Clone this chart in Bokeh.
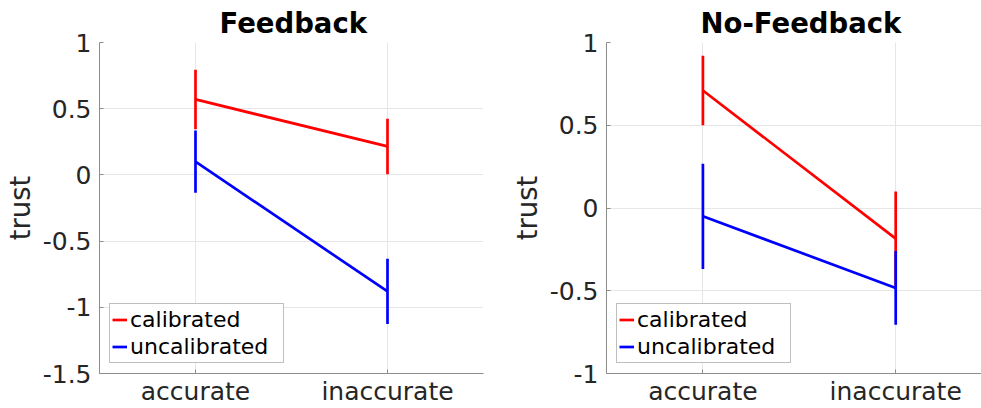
from bokeh.plotting import figure
from bokeh.layouts import row
from bokeh.models import FixedTicker, Legend, LegendItem, Range1d
from bokeh.embed import file_html
from bokeh.resources import INLINE

# Conditions on the x axis
categories = ["accurate", "inaccurate"]
cat_pos = [1, 2]

# Feedback panel: mean trust and error half-widths
fb_calibrated = [0.57, 0.215]
fb_calibrated_err = [0.225, 0.21]
fb_uncalibrated = [0.10, -0.88]
fb_uncalibrated_err = [0.235, 0.247]

# No-Feedback panel
nfb_calibrated = [0.71, -0.185]
nfb_calibrated_err = [0.21, 0.285]
nfb_uncalibrated = [-0.05, -0.483]
nfb_uncalibrated_err = [0.318, 0.223]

fb_yticks = [-1.5, -1, -0.5, 0, 0.5, 1]
fb_ytick_labels = ["-1.5", "-1", "-0.5", "0", "0.5", "1"]
nfb_yticks = [-1, -0.5, 0, 0.5, 1]
nfb_ytick_labels = ["-1", "-0.5", "0", "0.5", "1"]

series_names = ["calibrated", "uncalibrated"]
series_colors = ["#ff0000", "#0000ff"]

FONT = "DejaVu Sans"
AXIS_GRAY = "#8c8c8c"
TEXT_DARK = "#262626"
LW = 2.7


def make_panel(title, means, errs, yticks, ylabels, yrange, xrange, width,
               border_left, border_right, title_offset):
    p = figure(width=width, height=408, output_backend="svg", toolbar_location=None,
               x_range=Range1d(*xrange), y_range=Range1d(*yrange),
               min_border_left=border_left, min_border_right=border_right,
               min_border_top=42, min_border_bottom=34)
    p.outline_line_color = None
    p.background_fill_color = "white"
    p.border_fill_color = "white"

    p.title.text = title
    p.title.align = "left"
    p.title.offset = title_offset
    p.title.text_font = FONT
    p.title.text_font_size = "27.5px"
    p.title.text_font_style = "bold"
    p.title.text_color = "black"
    p.title.standoff = 8

    p.xaxis.ticker = FixedTicker(ticks=cat_pos)
    p.xaxis.major_label_overrides = {k: v for k, v in zip(cat_pos, categories)}
    p.yaxis.ticker = FixedTicker(ticks=yticks)
    p.yaxis.major_label_overrides = {k: v for k, v in zip(yticks, ylabels)}
    p.yaxis.axis_label = "trust"

    for ax in (p.xaxis, p.yaxis):
        ax.axis_line_color = AXIS_GRAY
        ax.axis_line_width = 1
        ax.major_tick_line_color = AXIS_GRAY
        ax.major_tick_in = 4
        ax.major_tick_out = 0
        ax.minor_tick_line_color = None
        ax.major_label_text_font = FONT
        ax.major_label_text_font_size = "25px"
        ax.major_label_text_color = TEXT_DARK
        ax.axis_label_text_font = FONT
        ax.axis_label_text_font_size = "27.5px"
        ax.axis_label_text_font_style = "normal"
        ax.axis_label_text_color = TEXT_DARK
        ax.axis_label_standoff = 4
    p.yaxis.major_label_standoff = 8
    p.xaxis.major_label_standoff = 3

    for g in (p.xgrid, p.ygrid):
        g.grid_line_color = "#e6e6e6"
        g.grid_line_width = 1

    items = []
    for name, color, m, e in zip(series_names, series_colors, means, errs):
        line = p.line(cat_pos, m, line_color=color, line_width=LW)
        lo = [a - b for a, b in zip(m, e)]
        hi = [a + b for a, b in zip(m, e)]
        p.segment(x0=cat_pos, y0=lo, x1=cat_pos, y1=hi, line_color=color, line_width=LW)
        items.append(LegendItem(label=name, renderers=[line]))

    legend = Legend(items=items, location=(10, 10))
    legend.label_text_font = FONT
    legend.label_text_font_size = "22px"
    legend.label_text_color = "black"
    legend.glyph_width = 15
    legend.glyph_height = 27
    legend.label_height = 27
    legend.label_width = 151
    legend.label_standoff = 3
    legend.padding = 2
    legend.spacing = 0
    legend.margin = 0
    legend.border_line_color = "#808080"
    legend.border_line_width = 1
    legend.background_fill_color = "white"
    legend.background_fill_alpha = 1
    p.add_layout(legend, "center")
    return p


p1 = make_panel("Feedback", [fb_calibrated, fb_uncalibrated],
                [fb_calibrated_err, fb_uncalibrated_err],
                fb_yticks, fb_ytick_labels, (-1.5, 1), (0.5, 2.5), 490, 98, 7, 120)
p2 = make_panel("No-Feedback", [nfb_calibrated, nfb_uncalibrated],
                [nfb_calibrated_err, nfb_uncalibrated_err],
                nfb_yticks, nfb_ytick_labels, (-1, 1), (0.5, 2.445), 491, 116, 0, 94)

layout = row(p1, p2)
open("out.html", "w").write(file_html(layout, INLINE))
